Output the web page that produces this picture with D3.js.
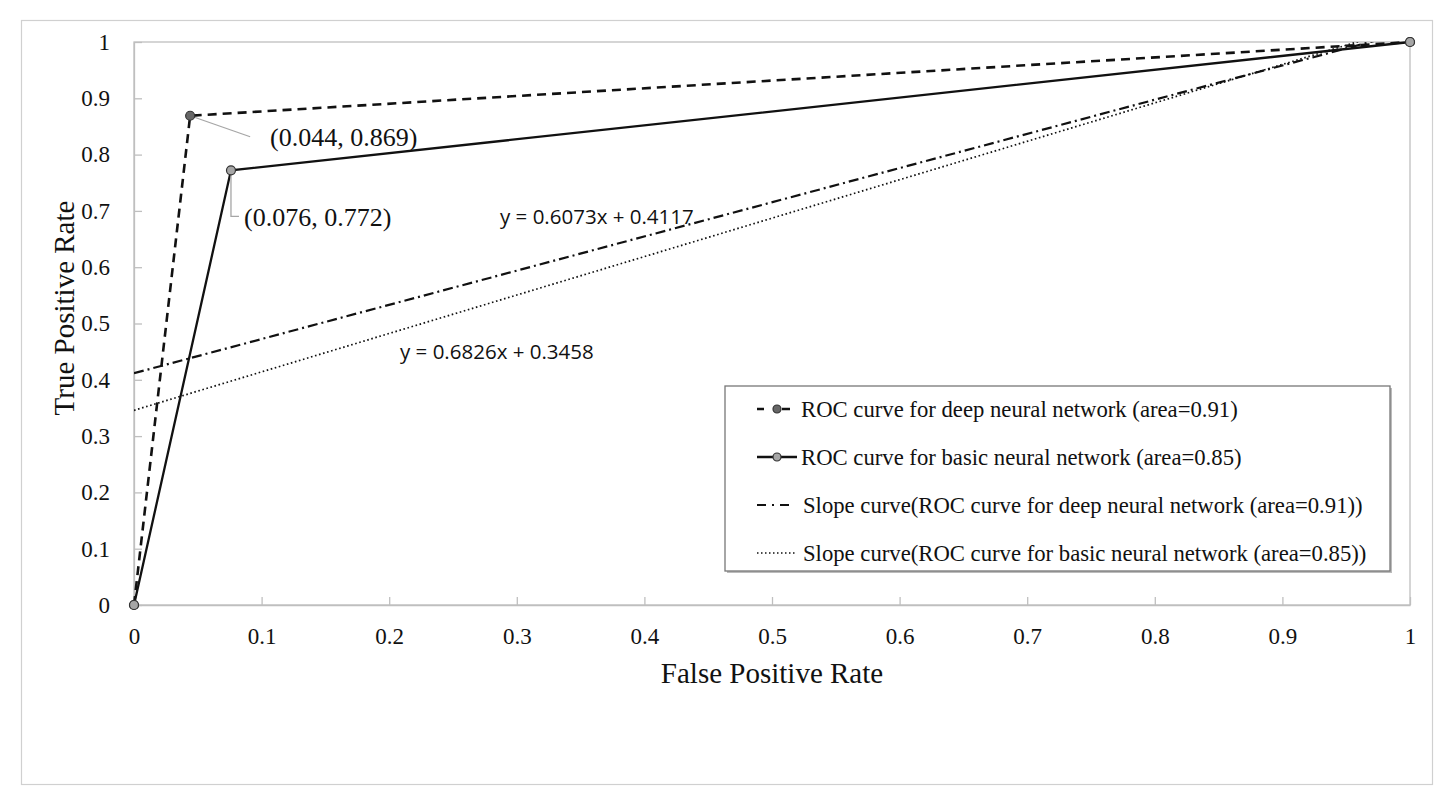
<!DOCTYPE html>
<html><head><meta charset="utf-8">
<script src="https://cdn.jsdelivr.net/npm/d3@7"></script>
<style>
body{margin:0;background:#fff}
.tick text{font-family:"Liberation Serif","Times New Roman",serif !important;font-size:23px !important;fill:#111}
</style>
</head><body>
<svg id="c" width="1451" height="802"></svg>
<script>
// ---- data ----
const deepX = [0, 0.044, 1];
const deepY = [0, 0.869, 1];
const basicX = [0, 0.076, 1];
const basicY = [0, 0.772, 1];
const slopeDeep = [0.6073, 0.4117];   // slope, intercept
const slopeBasic = [0.6826, 0.3458];
const ticks = [0, 0.1, 0.2, 0.3, 0.4, 0.5, 0.6, 0.7, 0.8, 0.9, 1];
const tickLabels = ["0", "0.1", "0.2", "0.3", "0.4", "0.5", "0.6", "0.7", "0.8", "0.9", "1"];
const legendLabels = [
  "ROC curve for deep neural network (area=0.91)",
  "ROC curve for basic neural network (area=0.85)",
  "Slope curve(ROC curve for deep neural network (area=0.91))",
  "Slope curve(ROC curve for basic neural network (area=0.85))"
];
const eqLabels = ["y = 0.6073x + 0.4117", "y = 0.6826x + 0.3458"];
const pointLabels = ["(0.044, 0.869)", "(0.076, 0.772)"];

const svg = d3.select("#c");
const serif = "'Liberation Serif', 'Times New Roman', serif";
const sans = "'Open Sans', 'Liberation Sans', sans-serif";
const L = 134, R = 1410, T = 42, B = 605;
const x = d3.scaleLinear().domain([0, 1]).range([L, R]);
const y = d3.scaleLinear().domain([0, 1]).range([B, T]);

// outer frame
svg.append("rect").attr("x", 21.5).attr("y", 20.5).attr("width", 1411).attr("height", 764)
  .attr("fill", "#fff").attr("stroke", "#d0d0d0").attr("stroke-width", 1.2);

// plot frame
svg.append("rect").attr("x", L).attr("y", T).attr("width", R - L).attr("height", B - T)
  .attr("fill", "none").attr("stroke", "#bfbfbf").attr("stroke-width", 1.3);

// axes
const xAxis = d3.axisBottom(x).tickValues(ticks).tickFormat((d, i) => tickLabels[i]).tickSizeInner(-8).tickSizeOuter(0).tickPadding(31);
const gx = svg.append("g").attr("transform", `translate(0,${B})`).call(xAxis);
const yAxis = d3.axisLeft(y).tickValues(ticks).tickFormat((d, i) => tickLabels[i]).tickSizeInner(-8).tickSizeOuter(0).tickPadding(24);
const gy = svg.append("g").attr("transform", `translate(${L},0)`).call(yAxis);
[gx, gy].forEach(g => {
  g.attr("font-family", serif).attr("font-size", 23);
  g.select(".domain").attr("stroke", "#bfbfbf").attr("stroke-width", 1.3);
  g.selectAll(".tick line").attr("stroke", "#bfbfbf").attr("stroke-width", 1.3);
});
gx.selectAll(".tick text").attr("dy", "0.35em");

// axis titles
svg.append("text").attr("x", (L + R) / 2).attr("y", 683).attr("text-anchor", "middle")
  .style("font-family", serif).style("font-size", "29px").attr("fill", "#111").text("False Positive Rate");
svg.append("text").attr("transform", `translate(74,${308}) rotate(-90)`).attr("text-anchor", "middle")
  .style("font-family", serif).style("font-size", "29px").attr("fill", "#111").text("True Positive Rate");

// clip
svg.append("clipPath").attr("id", "pc").append("rect").attr("x", L).attr("y", T).attr("width", R - L).attr("height", B - T);

const line = d3.line().x(d => x(d[0])).y(d => y(d[1]));

// slope lines
function slopePts(s) {
  const xe = Math.min(1, (1 - s[1]) / s[0]);
  return [[0, s[1]], [xe, s[0] * xe + s[1]], [1, s[0] + s[1]]];
}
svg.append("path").datum(slopePts(slopeBasic)).attr("d", line).attr("clip-path", "url(#pc)")
  .attr("fill", "none").attr("stroke", "#111").attr("stroke-width", 1.7).attr("stroke-dasharray", "1.6 2.6");
svg.append("path").datum(slopePts(slopeDeep)).attr("d", line).attr("clip-path", "url(#pc)")
  .attr("fill", "none").attr("stroke", "#111").attr("stroke-width", 2.2).attr("stroke-dasharray", "10 4 2 4");

// ROC lines
const deep = deepX.map((v, i) => [v, deepY[i]]);
const basic = basicX.map((v, i) => [v, basicY[i]]);
svg.append("path").datum(deep).attr("d", line).attr("fill", "none").attr("stroke", "#111")
  .attr("stroke-width", 2.6).attr("stroke-dasharray", "9 6");
svg.append("path").datum(basic).attr("d", line).attr("fill", "none").attr("stroke", "#111")
  .attr("stroke-width", 2.3);

// annotations leader lines
svg.append("path").attr("d", `M${x(deepX[1])},${y(deepY[1])} L${x(deepX[1]) + 60},${y(deepY[1]) + 21}`)
  .attr("fill", "none").attr("stroke", "#a6a6a6").attr("stroke-width", 1.3);
svg.append("path").attr("d", `M${x(basicX[1])},${y(basicY[1])} L${x(basicX[1])},${y(basicY[1]) + 46} L${x(basicX[1]) + 8},${y(basicY[1]) + 46}`)
  .attr("fill", "none").attr("stroke", "#a6a6a6").attr("stroke-width", 1.3);

// markers
svg.selectAll(".md").data(deep).enter().append("circle").attr("cx", d => x(d[0])).attr("cy", d => y(d[1]))
  .attr("r", 4.5).attr("fill", "#666").attr("stroke", "#333").attr("stroke-width", 1.2);
svg.selectAll(".mb").data(basic).enter().append("circle").attr("cx", d => x(d[0])).attr("cy", d => y(d[1]))
  .attr("r", 4.5).attr("fill", "#a6a6a6").attr("stroke", "#333").attr("stroke-width", 1.2);

// point labels
svg.append("text").attr("x", 270).attr("y", 146).style("font-family", serif).style("font-size", "26px").attr("fill", "#111").text(pointLabels[0]);
svg.append("text").attr("x", 244).attr("y", 226).style("font-family", serif).style("font-size", "26px").attr("fill", "#111").text(pointLabels[1]);

// equation labels
svg.append("text").attr("x", 500).attr("y", 224).style("font-family", sans).style("font-size", "20.5px").attr("fill", "#111").text(eqLabels[0]);
svg.append("text").attr("x", 400).attr("y", 359).style("font-family", sans).style("font-size", "20.5px").attr("fill", "#111").text(eqLabels[1]);

// legend
const lg = svg.append("g");
lg.append("rect").attr("x", 727).attr("y", 388).attr("width", 665).attr("height", 185).attr("fill", "#bbb");
lg.append("rect").attr("x", 725).attr("y", 386).attr("width", 665).attr("height", 185)
  .attr("fill", "#fff").attr("stroke", "#777").attr("stroke-width", 1.3);
const ly = [409, 457, 505, 553];
legendLabels.forEach((t, i) => {
  const yy = ly[i];
  if (i === 0) {
    lg.append("line").attr("x1", 757).attr("x2", 797).attr("y1", yy).attr("y2", yy).attr("stroke", "#111").attr("stroke-width", 2.6).attr("stroke-dasharray", "7 9 0 9 8");
    lg.append("circle").attr("cx", 777).attr("cy", yy).attr("r", 4).attr("fill", "#666").attr("stroke", "#333").attr("stroke-width", 1.2);
  } else if (i === 1) {
    lg.append("line").attr("x1", 757).attr("x2", 797).attr("y1", yy).attr("y2", yy).attr("stroke", "#111").attr("stroke-width", 2.3);
    lg.append("circle").attr("cx", 777).attr("cy", yy).attr("r", 4).attr("fill", "#a6a6a6").attr("stroke", "#333").attr("stroke-width", 1.2);
  } else if (i === 2) {
    lg.append("line").attr("x1", 757).attr("x2", 797).attr("y1", yy).attr("y2", yy).attr("stroke", "#111").attr("stroke-width", 2.2).attr("stroke-dasharray", "9 6 2 6 9");
  } else {
    lg.append("line").attr("x1", 757).attr("x2", 797).attr("y1", yy).attr("y2", yy).attr("stroke", "#111").attr("stroke-width", 1.5).attr("stroke-dasharray", "1.5 2.5");
  }
  lg.append("text").attr("x", i < 2 ? 801 : 803).attr("y", yy).attr("dy", "0.35em").style("font-family", serif)
    .style("font-size", "22.7px").attr("fill", "#111").text(t);
});
</script>
</body></html>
